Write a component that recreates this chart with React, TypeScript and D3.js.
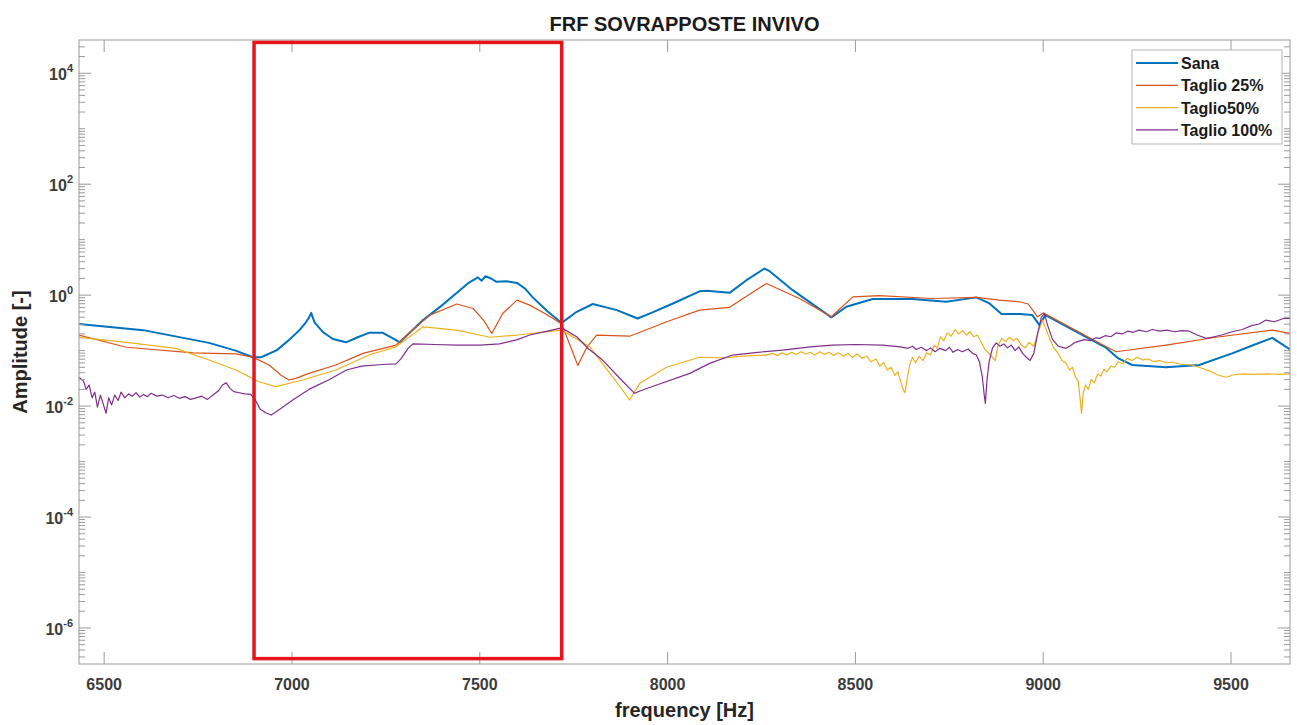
import React from 'react';
import * as d3 from 'd3';

// ---------- data (frequency [Hz], amplitude [-]) ----------
const xDomain: [number, number] = [6433, 9657];
const yDomain: [number, number] = [2.24e-7, 3.98e4];
const xTickValues = [6500, 7000, 7500, 8000, 8500, 9000, 9500];
const yLabelExponents = [-6, -4, -2, 0, 2, 4];

const seriesNames = ['Sana', 'Taglio 25%', 'Taglio50%', 'Taglio 100%'];
const seriesColors = ['#0072BD', '#D95319', '#EDB120', '#7E2F8E'];
const seriesWidths = [2, 1.2, 1.2, 1.2];

const sana: [number, number][] = [
  [6433, 0.302], [6604, 0.234], [6779, 0.138], [6850, 0.1], [6896, 0.0759], [6918, 0.0759],
  [6960, 0.102], [6992, 0.155], [7020, 0.234], [7037, 0.324], [7045, 0.389], [7051, 0.479],
  [7060, 0.324], [7083, 0.214], [7109, 0.162], [7144, 0.141], [7175, 0.174], [7205, 0.209],
  [7242, 0.209], [7277, 0.155], [7287, 0.141], [7349, 0.355], [7400, 0.661], [7439, 1.1],
  [7470, 1.66], [7495, 2.09], [7505, 1.82], [7515, 2.19], [7527, 2.04], [7545, 1.74],
  [7570, 1.78], [7599, 1.66], [7620, 1.32], [7641, 0.912], [7680, 0.513], [7718, 0.316],
  [7758, 0.501], [7801, 0.692], [7865, 0.537], [7920, 0.38], [7960, 0.49], [8014, 0.708],
  [8085, 1.17], [8104, 1.2], [8165, 1.1], [8210, 1.86], [8258, 3.02], [8270, 2.75],
  [8333, 1.23], [8400, 0.589], [8436, 0.398], [8476, 0.617], [8546, 0.851], [8652, 0.851],
  [8742, 0.759], [8822, 0.912], [8857, 0.708], [8889, 0.457], [8937, 0.457], [8971, 0.437],
  [8990, 0.288], [9006, 0.437], [9168, 0.112], [9200, 0.0724], [9237, 0.055], [9327, 0.0501],
  [9415, 0.055], [9503, 0.0891], [9560, 0.126], [9610, 0.17], [9657, 0.105],
];

const taglio25: [number, number][] = [
  [6433, 0.191], [6559, 0.115], [6737, 0.0912], [6851, 0.0871], [6896, 0.0759], [6939, 0.055],
  [6970, 0.0363], [6992, 0.0295], [7010, 0.0316], [7045, 0.0389], [7117, 0.055], [7189, 0.0891],
  [7277, 0.126], [7306, 0.191], [7367, 0.437], [7439, 0.692], [7482, 0.575], [7510, 0.355],
  [7532, 0.204], [7561, 0.468], [7599, 0.813], [7633, 0.661], [7680, 0.437], [7718, 0.302],
  [7740, 0.126], [7761, 0.0537], [7785, 0.115], [7811, 0.191], [7899, 0.182], [7998, 0.331],
  [8085, 0.537], [8165, 0.603], [8263, 1.62], [8351, 0.871], [8436, 0.407], [8493, 0.933],
  [8564, 0.977], [8705, 0.871], [8822, 0.912], [8883, 0.813], [8937, 0.759], [8960, 0.692],
  [8985, 0.407], [9000, 0.479], [9168, 0.117], [9194, 0.0955], [9327, 0.126], [9460, 0.174],
  [9610, 0.234], [9657, 0.204],
];

const taglio50: [number, number][] = [
  [6433, 0.174], [6559, 0.141], [6691, 0.11], [6779, 0.0676], [6851, 0.0447], [6912, 0.0275],
  [6957, 0.0224], [7029, 0.0295], [7117, 0.0447], [7205, 0.0832], [7277, 0.117], [7349, 0.269],
  [7439, 0.234], [7527, 0.174], [7600, 0.191], [7718, 0.234], [7793, 0.117], [7840, 0.0447],
  [7880, 0.0195], [7899, 0.0129], [7926, 0.0257], [7997, 0.0501], [8085, 0.0759], [8150, 0.0741],
  [8200, 0.0794], [8260, 0.0832], [8280, 0.0891], [8292, 0.0813], [8305, 0.0912], [8318, 0.0832],
  [8330, 0.0933], [8342, 0.0851], [8355, 0.0955], [8368, 0.0871], [8380, 0.0933], [8392, 0.0832],
  [8405, 0.0955], [8418, 0.0851], [8430, 0.0933], [8442, 0.0813], [8455, 0.0912], [8468, 0.0794],
  [8480, 0.0891], [8492, 0.0759], [8505, 0.0871], [8518, 0.0724], [8530, 0.0794], [8542, 0.0631],
  [8555, 0.0708], [8565, 0.0525], [8575, 0.0603], [8585, 0.0447], [8595, 0.0501], [8605, 0.0355],
  [8613, 0.0417], [8620, 0.0282], [8627, 0.02], [8632, 0.0174], [8638, 0.0316], [8645, 0.0562],
  [8652, 0.0759], [8660, 0.0603], [8670, 0.0794], [8680, 0.0661], [8690, 0.0912], [8700, 0.0832],
  [8710, 0.126], [8718, 0.11], [8726, 0.178], [8735, 0.151], [8745, 0.209], [8755, 0.182],
  [8765, 0.24], [8775, 0.2], [8785, 0.229], [8795, 0.191], [8805, 0.219], [8815, 0.178],
  [8825, 0.191], [8835, 0.141], [8845, 0.105], [8855, 0.0891], [8865, 0.0759], [8872, 0.0661],
  [8880, 0.126], [8890, 0.166], [8900, 0.145], [8910, 0.174], [8920, 0.151], [8930, 0.166],
  [8942, 0.126], [8952, 0.112], [8962, 0.141], [8975, 0.12], [8985, 0.2], [8998, 0.355],
  [9008, 0.24], [9018, 0.158], [9028, 0.112], [9040, 0.0891], [9050, 0.0661], [9060, 0.0603],
  [9070, 0.0447], [9078, 0.0501], [9086, 0.0331], [9093, 0.0282], [9098, 0.0141], [9102, 0.0074],
  [9107, 0.0178], [9113, 0.024], [9120, 0.02], [9128, 0.0302], [9136, 0.0263], [9145, 0.038],
  [9153, 0.0347], [9162, 0.0457], [9170, 0.0417], [9180, 0.0525], [9190, 0.0501], [9200, 0.0631],
  [9212, 0.0575], [9224, 0.0724], [9237, 0.0661], [9250, 0.0759], [9265, 0.0676], [9280, 0.0708],
  [9295, 0.0631], [9310, 0.0661], [9327, 0.0603], [9345, 0.0617], [9370, 0.0562], [9395, 0.055],
  [9415, 0.0501], [9440, 0.0437], [9465, 0.0363], [9487, 0.0331], [9505, 0.0363], [9530, 0.038],
  [9560, 0.0372], [9600, 0.038], [9630, 0.0372], [9657, 0.038],
];

const taglio100: [number, number][] = [
  [6433, 0.0331], [6445, 0.0282], [6452, 0.02], [6460, 0.024], [6468, 0.0141], [6475, 0.0178],
  [6482, 0.00955], [6490, 0.0158], [6497, 0.0112], [6505, 0.0074], [6512, 0.0141], [6520, 0.0105],
  [6528, 0.0158], [6537, 0.0126], [6545, 0.0178], [6555, 0.0141], [6565, 0.0166], [6575, 0.0151],
  [6585, 0.0174], [6595, 0.0145], [6605, 0.0162], [6615, 0.0148], [6625, 0.017], [6640, 0.0151],
  [6655, 0.0158], [6670, 0.0141], [6685, 0.0155], [6700, 0.0138], [6715, 0.0148], [6730, 0.0132],
  [6745, 0.0141], [6760, 0.0151], [6775, 0.0132], [6790, 0.0158], [6805, 0.0191], [6815, 0.024],
  [6825, 0.0263], [6835, 0.0209], [6845, 0.0182], [6860, 0.0174], [6875, 0.0166], [6890, 0.0162],
  [6900, 0.0138], [6915, 0.0089], [6930, 0.0076], [6945, 0.0069], [6958, 0.0079], [6975, 0.0095],
  [7000, 0.0126], [7045, 0.02], [7100, 0.0302], [7145, 0.0447], [7185, 0.0525], [7240, 0.0562],
  [7277, 0.0575], [7290, 0.0708], [7310, 0.112], [7322, 0.132], [7380, 0.129], [7439, 0.126],
  [7500, 0.126], [7553, 0.132], [7600, 0.158], [7633, 0.191], [7680, 0.224], [7718, 0.257],
  [7758, 0.178], [7790, 0.107], [7827, 0.0676], [7870, 0.0331], [7912, 0.017], [7930, 0.0191],
  [7971, 0.024], [8059, 0.0389], [8112, 0.0589], [8173, 0.0832], [8240, 0.0933], [8306, 0.102],
  [8380, 0.117], [8439, 0.126], [8500, 0.129], [8572, 0.126], [8620, 0.117], [8640, 0.11],
  [8652, 0.12], [8662, 0.105], [8675, 0.115], [8690, 0.1], [8700, 0.112], [8712, 0.0955],
  [8725, 0.11], [8740, 0.1], [8750, 0.115], [8760, 0.0933], [8772, 0.105], [8785, 0.0955],
  [8800, 0.107], [8812, 0.0891], [8822, 0.0832], [8830, 0.0631], [8838, 0.0331], [8843, 0.0158],
  [8846, 0.0112], [8850, 0.0282], [8856, 0.0631], [8865, 0.112], [8875, 0.138], [8885, 0.12],
  [8895, 0.132], [8905, 0.112], [8915, 0.126], [8925, 0.1], [8935, 0.117], [8945, 0.0891],
  [8955, 0.0759], [8965, 0.0661], [8975, 0.0891], [8985, 0.2], [8995, 0.398], [9003, 0.468],
  [9012, 0.282], [9025, 0.158], [9040, 0.12], [9061, 0.11], [9075, 0.126], [9083, 0.138],
  [9095, 0.148], [9110, 0.158], [9125, 0.151], [9140, 0.17], [9150, 0.166], [9165, 0.186],
  [9180, 0.178], [9195, 0.209], [9210, 0.2], [9225, 0.224], [9240, 0.214], [9255, 0.234],
  [9275, 0.219], [9290, 0.24], [9310, 0.224], [9330, 0.234], [9350, 0.219], [9370, 0.229],
  [9389, 0.224], [9410, 0.191], [9434, 0.166], [9455, 0.178], [9475, 0.191], [9503, 0.219],
  [9530, 0.24], [9555, 0.282], [9575, 0.302], [9593, 0.355], [9615, 0.331], [9640, 0.38],
  [9657, 0.38],
];

const highlightFreq: [number, number] = [6899, 7718];
const highlightAmp: [number, number] = [2.8e-7, 3.6e4];

const titleText = 'FRF SOVRAPPOSTE INVIVO';
const xLabelText = 'frequency [Hz]';
const yLabelText = 'Amplitude [-]';

// ---------- layout ----------
const W = 1297;
const H = 725;
const M = { left: 79, right: 1290, top: 40, bottom: 664 };
const FONT = '"Liberation Sans", Arial, Helvetica, sans-serif';
const AXIS = '#9a9a9a';
const TXT = '#3c3c3c';

export default function App() {
  const x = d3.scaleLinear().domain(xDomain).range([M.left, M.right]);
  const y = d3.scaleLog().domain(yDomain).range([M.bottom, M.top]);
  const line = d3
    .line<[number, number]>()
    .x((d) => x(d[0]))
    .y((d) => y(d[1]));

  const allSeries = [sana, taglio25, taglio50, taglio100];

  const minorTicks: number[] = [];
  for (let k = -7; k <= 4; k++) {
    for (let m = 1; m <= 9; m++) {
      const v = m * Math.pow(10, k);
      if (v >= yDomain[0] && v <= yDomain[1] && !(m === 1 && k % 2 === 0)) minorTicks.push(v);
    }
  }

  const majorLen = 12;
  const minorLen = 6;

  return (
    <svg
      width={W}
      height={H}
      style={{ position: 'fixed', left: 0, top: 0, background: '#fff', display: 'block' }}
      fontFamily={FONT}
    >
      <defs>
        <clipPath id="plotClip">
          <rect x={M.left} y={M.top} width={M.right - M.left} height={M.bottom - M.top} />
        </clipPath>
      </defs>
      <rect x={0} y={0} width={W} height={H} fill="#fff" />

      {/* series */}
      <g clipPath="url(#plotClip)">
        {allSeries.map((s, i) => (
          <path
            key={i}
            d={line(s) || ''}
            fill="none"
            stroke={seriesColors[i]}
            strokeWidth={seriesWidths[i]}
            strokeLinejoin="round"
          />
        ))}
      </g>

      {/* box */}
      <rect
        x={M.left}
        y={M.top}
        width={M.right - M.left}
        height={M.bottom - M.top}
        fill="none"
        stroke={AXIS}
        strokeWidth={1}
      />

      {/* x ticks */}
      {xTickValues.map((t) => (
        <g key={t}>
          <line x1={x(t)} x2={x(t)} y1={M.bottom} y2={M.bottom - majorLen} stroke={AXIS} />
          <line x1={x(t)} x2={x(t)} y1={M.top} y2={M.top + majorLen} stroke={AXIS} />
          <text
            x={x(t)}
            y={M.bottom + 26}
            textAnchor="middle"
            fontSize={16}
            fontWeight="bold"
            fill={TXT}
          >
            {t}
          </text>
        </g>
      ))}

      {/* y minor ticks */}
      {minorTicks.map((v, i) => (
        <g key={'m' + i}>
          <line x1={M.left} x2={M.left + minorLen} y1={y(v)} y2={y(v)} stroke={AXIS} />
          <line x1={M.right} x2={M.right - minorLen} y1={y(v)} y2={y(v)} stroke={AXIS} />
        </g>
      ))}

      {/* y major ticks */}
      {yLabelExponents.map((e) => {
        const v = Math.pow(10, e);
        return (
          <g key={'y' + e}>
            <line x1={M.left} x2={M.left + majorLen} y1={y(v)} y2={y(v)} stroke={AXIS} />
            <line x1={M.right} x2={M.right - majorLen} y1={y(v)} y2={y(v)} stroke={AXIS} />
            <text
              x={M.left - 6}
              y={y(v) + 7}
              textAnchor="end"
              fontSize={16}
              fontWeight="bold"
              fill={TXT}
            >
              10
              <tspan dy={-8} fontSize={11}>
                {e}
              </tspan>
            </text>
          </g>
        );
      })}

      {/* highlight rectangle */}
      <rect
        x={x(highlightFreq[0])}
        y={y(highlightAmp[1])}
        width={x(highlightFreq[1]) - x(highlightFreq[0])}
        height={y(highlightAmp[0]) - y(highlightAmp[1])}
        fill="none"
        stroke="#e8141c"
        strokeWidth={3.5}
      />

      {/* title & labels */}
      <text
        x={(M.left + M.right) / 2}
        y={31}
        textAnchor="middle"
        fontSize={20}
        fontWeight="bold"
        fill="#1a1a1a"
      >
        {titleText}
      </text>
      <text
        x={(M.left + M.right) / 2}
        y={717}
        textAnchor="middle"
        fontSize={20}
        fontWeight="bold"
        fill="#262626"
      >
        {xLabelText}
      </text>
      <text
        transform={`translate(27, ${(M.top + M.bottom) / 2}) rotate(-90)`}
        textAnchor="middle"
        fontSize={20}
        fontWeight="bold"
        fill="#262626"
      >
        {yLabelText}
      </text>

      {/* legend */}
      <g>
        <rect x={1132} y={50} width={150} height={94} fill="#fff" stroke="#b4b4b4" strokeWidth={1} />
        {seriesNames.map((n, i) => (
          <g key={n}>
            <line
              x1={1136}
              x2={1178}
              y1={63 + i * 22.3}
              y2={63 + i * 22.3}
              stroke={seriesColors[i]}
              strokeWidth={seriesWidths[i]}
            />
            <text x={1181} y={63 + i * 22.3 + 6} fontSize={16} fontWeight="bold" fill="#1a1a1a">
              {n}
            </text>
          </g>
        ))}
      </g>
    </svg>
  );
}
